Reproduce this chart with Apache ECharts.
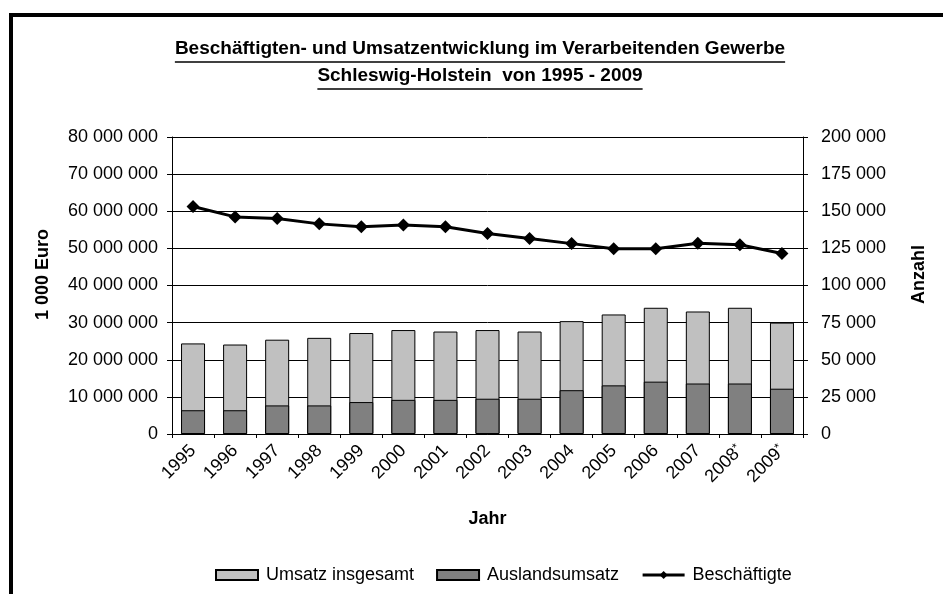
<!DOCTYPE html>
<html>
<head>
<meta charset="utf-8">
<script src="https://cdn.jsdelivr.net/npm/echarts@6/dist/echarts.min.js"></script>
<style>
  html, body { margin: 0; padding: 0; background: #fff; }
  #chart { width: 943px; height: 594px; }
</style>
</head>
<body>
<div id="chart"></div>
<script>
// Werte
const years = ['1995', '1996', '1997', '1998', '1999', '2000', '2001', '2002', '2003', '2004', '2005', '2006', '2007', '2008*', '2009*']
const umsatzInsgesamt = [24400000, 24100000, 25400000, 25900000, 27200000, 28000000, 27600000, 28000000, 27600000, 30400000, 32200000, 34000000, 33000000, 34000000, 30000000]
const auslandsumsatz = [6400000, 6400000, 7700000, 7700000, 8600000, 9200000, 9200000, 9500000, 9500000, 11800000, 13100000, 14100000, 13600000, 13600000, 12200000]
const beschaeftigte = [153200, 146200, 145100, 141500, 139500, 140800, 139500, 135000, 131600, 128200, 124700, 124700, 128400, 127400, 121500]

const titleLines = ['Beschäftigten- und Umsatzentwicklung im Verarbeitenden Gewerbe', 'Schleswig-Holstein  von 1995 - 2009']

const font = 'Liberation Sans, Arial, sans-serif'
const fmt = v => String(v).replace(/\B(?=(\d{3})+(?!\d))/g, ' ')

// Titel als Text mit Unterstreichung
const ctx = document.createElement('canvas').getContext('2d')
const titleFont = 'bold 19px "Liberation Sans", Arial, sans-serif'
ctx.font = titleFont
const titleCx = 480
const titleGraphics = []
titleLines.forEach((t, i) => {
  const y = 49 + i * 27
  const w = ctx.measureText(t).width
  titleGraphics.push({
    type: 'text', x: titleCx, y: y,
    style: { text: t, font: titleFont, fill: '#000', align: 'center', verticalAlign: 'middle' }
  })
  titleGraphics.push({
    type: 'line',
    shape: { x1: titleCx - w / 2, y1: y + 13, x2: titleCx + w / 2, y2: y + 13 },
    style: { stroke: '#000', lineWidth: 1.5 }
  })
})

const chart = echarts.init(document.getElementById('chart'))
chart.setOption({
  backgroundColor: '#fff',
  animation: false,
  textStyle: { fontFamily: font, color: '#000' },
  graphic: [
    {
      type: 'polyline',
      shape: { points: [[11, 594], [11, 15], [943, 15]] },
      style: { stroke: '#000', lineWidth: 4, fill: null }
    },
    ...titleGraphics
  ],
  legend: {
    left: 210, top: 561, itemGap: 22, itemWidth: 42, itemHeight: 10,
    textStyle: { fontSize: 18, color: '#000', fontFamily: font, padding: [0, 0, 0, 3] },
    data: [
      { name: 'Umsatz insgesamt', icon: 'rect' },
      { name: 'Auslandsumsatz', icon: 'rect' },
      { name: 'Beschäftigte', lineStyle: { width: 3, color: '#000' } }
    ]
  },
  grid: { left: 172, right: 140, top: 137, bottom: 160 },
  xAxis: {
    type: 'category', data: years,
    name: 'Jahr', nameLocation: 'middle', nameGap: 76,
    nameTextStyle: { fontSize: 18, fontWeight: 'bold', color: '#000' },
    axisLine: { lineStyle: { color: '#000', width: 1 } },
    axisTick: { show: true, length: 4, lineStyle: { color: '#000' } },
    axisLabel: {
      rotate: 45, fontSize: 18, color: '#000', margin: 14,
      formatter: v => v.endsWith('*') ? v.slice(0, -1) + '{sup|*}' : v,
      rich: { sup: { fontSize: 12, verticalAlign: 'top', color: '#000' } }
    }
  },
  yAxis: [
    {
      type: 'value', min: 0, max: 80000000, interval: 10000000,
      name: '1 000 Euro', nameLocation: 'middle', nameGap: 120, nameRotate: 90,
      nameTextStyle: { fontSize: 18, fontWeight: 'bold', color: '#000', padding: [0, 0, 0, 22] },
      axisLine: { show: true, lineStyle: { color: '#000' } },
      axisTick: { show: true, length: 5, lineStyle: { color: '#000' } },
      axisLabel: { fontSize: 18, color: '#000', margin: 14, formatter: fmt },
      splitLine: { lineStyle: { color: '#000', width: 1 } }
    },
    {
      type: 'value', min: 0, max: 200000, interval: 25000,
      name: 'Anzahl', nameLocation: 'middle', nameGap: 107, nameRotate: 90,
      nameTextStyle: { fontSize: 18, fontWeight: 'bold', color: '#000', padding: [0, 0, 0, 22] },
      axisLine: { show: true, lineStyle: { color: '#000' } },
      axisTick: { show: true, length: 5, lineStyle: { color: '#000' } },
      axisLabel: { fontSize: 18, color: '#000', margin: 18, formatter: fmt },
      splitLine: { show: false }
    }
  ],
  series: [
    {
      name: 'Umsatz insgesamt', type: 'bar', data: umsatzInsgesamt, barWidth: 24, barGap: '-100%',
      itemStyle: { color: '#c0c0c0', borderColor: '#000', borderWidth: 1 }
    },
    {
      name: 'Auslandsumsatz', type: 'bar', data: auslandsumsatz, barWidth: 24,
      itemStyle: { color: '#808080', borderColor: '#000', borderWidth: 1 }
    },
    {
      name: 'Beschäftigte', type: 'line', yAxisIndex: 1, data: beschaeftigte,
      symbol: 'diamond', symbolSize: 13,
      lineStyle: { color: '#000', width: 3 },
      itemStyle: { color: '#000' }
    }
  ]
})
</script>
</body>
</html>
